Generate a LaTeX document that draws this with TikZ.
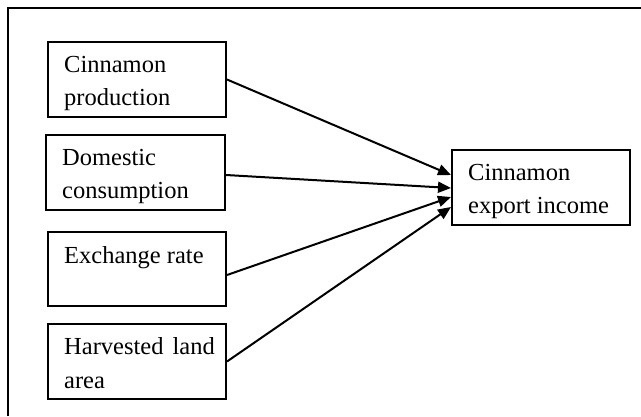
\documentclass[tikz,border=0pt]{standalone}
\usepackage{fontspec}
\setmainfont{Liberation Serif}
\usetikzlibrary{arrows.meta}
\begin{document}
\begin{tikzpicture}[x=1pt,y=-1pt,
  box/.style={draw,line width=2pt,inner sep=0pt},
  lbl/.style={anchor=base west,inner sep=0pt,font=\fontsize{24.5}{28}\selectfont},
  conn/.style={line width=2pt,-{Triangle[length=13pt,width=11pt]}}]
\useasboundingbox (0,0) rectangle (641,416);
\draw[line width=2.5pt] (8,416) -- (8,8) -- (641,8);
% boxes
\node[box,minimum width=178pt,minimum height=75pt] (b1) at (137,79.5) {};
\node[box,minimum width=179pt,minimum height=75pt] (b2) at (135.5,172.5) {};
\node[box,minimum width=178pt,minimum height=74pt] (b3) at (137,269) {};
\node[box,minimum width=178pt,minimum height=75pt] (b4) at (137,361.5) {};
\node[box,minimum width=178pt,minimum height=75pt] (t) at (541,187) {};
% texts
\node[lbl] (l1a) at (64,72) {Cinnamon};
\node[lbl] (l1b) at (64,105) {production};
\node[lbl] (l2a) at (62,165) {Domestic};
\node[lbl] (l2b) at (62,198) {consumption};
\node[lbl] (l3a) at (64,263) {Exchange rate};
\node[lbl] (l4a) at (64,354) {Harvested\hspace{3pt} land};
\node[lbl] (l4b) at (64,388) {area};
\node[lbl] (lta) at (468,180) {Cinnamon};
\node[lbl] (ltb) at (468,213) {export income};
% connectors
\draw[conn] (b1.east) -- ([yshift=12pt]t.west);
\draw[conn] ([yshift=-2.5pt]b2.east) -- ([yshift=-1pt]t.west);
\draw[conn] ([yshift=-6pt]b3.east) -- ([yshift=-10pt]t.west);
\draw[conn] (b4.east) -- ([yshift=-20pt]t.west);
\end{tikzpicture}
\end{document}
